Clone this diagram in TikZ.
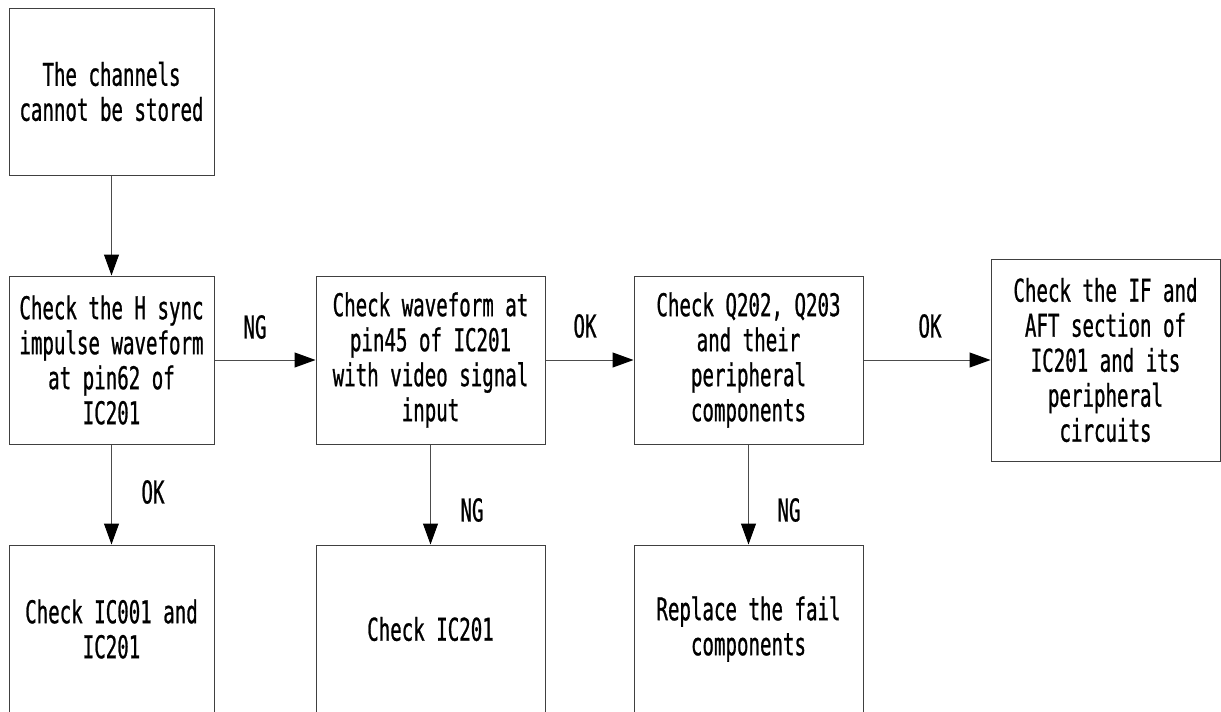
\documentclass[tikz,border=0pt]{standalone}
\usepackage{fontspec}
\newfontfamily\diagfont[FakeStretch=0.61,FakeBold=0.8]{DejaVu Sans Mono}
\usetikzlibrary{arrows.meta}
\begin{document}
\begin{tikzpicture}[x=0.75pt,y=-0.75pt,
  txt/.style={font=\diagfont\fontsize{23.5pt}{26.25pt}\selectfont, align=center, inner sep=0pt},
  box/.style={txt, draw=black!75, line width=0.75pt, fill=white},
  narrowbox/.style={box, minimum width=153.75pt},
  widebox/.style={box, minimum width=171.75pt},
  arr/.style={draw=black!70, line width=0.75pt, -{Triangle[length=15.75pt,width=11.25pt,fill=black,color=black]}}
]
\useasboundingbox (0,0) rectangle (1221,711);
\fill[white] (0,0) rectangle (1221,711);

\node[narrowbox, minimum height=125.25pt] (top) at (111.5,91.5) {The channels\\cannot be stored};

\node[narrowbox, minimum height=126pt] (b1) at (111.5,360) {Check the H sync\\impulse waveform\\at pin62 of\\IC201};
\node[widebox, minimum height=126pt] (b2) at (430.5,360) {Check waveform at\\pin45 of IC201\\with video signal\\input};
\node[widebox, minimum height=126pt] (b3) at (748.5,360) {Check Q202, Q203\\and their\\peripheral\\components};
\node[widebox, minimum height=151.5pt] (b4) at (1105.5,360) {Check the IF and\\AFT section of\\IC201 and its\\peripheral\\circuits};

\node[narrowbox, minimum height=126pt] (c1) at (111.5,629) {Check IC001 and\\IC201};
\node[widebox, minimum height=126pt] (c2) at (430.5,629) {Check IC201};
\node[widebox, minimum height=126pt] (c3) at (748.5,629) {Replace the fail\\components};

\draw[arr] (top) -- (b1);
\draw[arr] (b1) -- (b2);
\draw[arr] (b2) -- (b3);
\draw[arr] (b3) -- (b4);
\draw[arr] (b1) -- (c1);
\draw[arr] (b2) -- (c2);
\draw[arr] (b3) -- (c3);

\node[txt] (l12) at (255,327) {NG};
\node[txt] (l23) at (585,326) {OK};
\node[txt] (l34) at (930,326) {OK};
\node[txt] (l1c) at (153,492) {OK};
\node[txt] (l2c) at (472,510) {NG};
\node[txt] (l3c) at (789,510) {NG};
\end{tikzpicture}
\end{document}
